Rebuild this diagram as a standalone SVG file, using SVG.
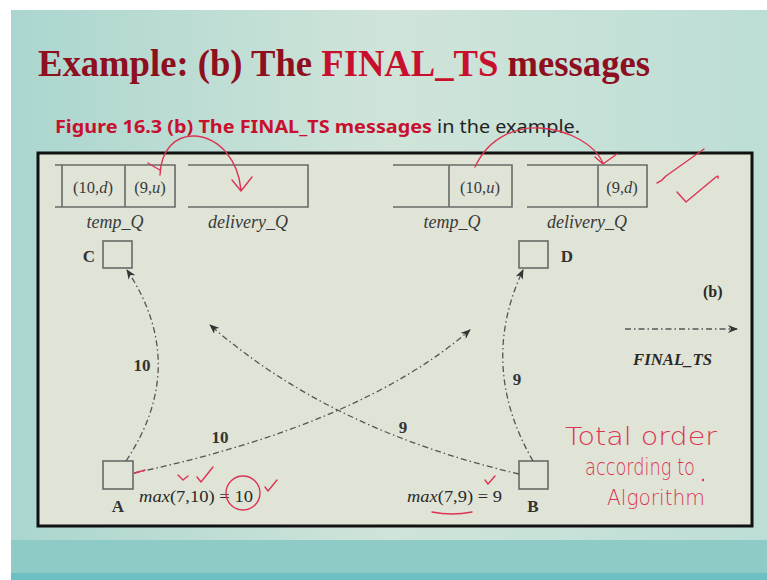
<svg xmlns="http://www.w3.org/2000/svg" width="767" height="580" viewBox="0 0 767 580">
<defs>
<linearGradient id="bg" x1="0" y1="0" x2="1" y2="0">
<stop offset="0" stop-color="#aad6cf"/>
<stop offset="0.5" stop-color="#d0e4d9"/>
<stop offset="1" stop-color="#bcded6"/>
</linearGradient>
<marker id="ah" viewBox="0 0 10 8" refX="9" refY="4" markerWidth="10" markerHeight="8" markerUnits="userSpaceOnUse" orient="auto">
<path d="M0,0 L10,4 L0,8 L3,4 z" fill="#333"/>
</marker>
<style>
.q{fill:none;stroke:#6a6a68;stroke-width:1.6}
.n{fill:none;stroke:#6a6a68;stroke-width:1.6}
.c{fill:none;stroke:#555;stroke-width:1.3;stroke-dasharray:6 3 1.5 3}
.t{font-family:"Liberation Serif","Times New Roman",serif;fill:#2a2a2a}
.cell{font-size:16.5px;fill:#3a3a3a}
.lab{font-size:18px;font-style:italic;fill:#3a3a3a}
.big{font-size:17px;font-weight:bold;fill:#333}
.red{fill:none;stroke:#dc3452;stroke-width:1.4;stroke-linecap:round;stroke-linejoin:round}
.hw{font-family:"DejaVu Sans",sans-serif;font-weight:200;fill:#dc3452}
</style>
</defs>
<rect width="767" height="580" fill="#ffffff"/>
<rect x="11" y="10" width="756" height="570" fill="url(#bg)"/>
<rect x="11" y="540" width="756" height="40" fill="#8ecbc7"/>
<rect x="11" y="573" width="756" height="7" fill="#6cc0c4"/>

<g id="title">
<text x="38" y="76" font-family="Liberation Serif,serif" font-weight="bold" font-size="37" fill="#8e0f1e" textLength="612" lengthAdjust="spacingAndGlyphs">Example: (b) The <tspan fill="#c8102e">FINAL_TS</tspan> messages</text>
</g>
<g id="subtitle">
<text x="55" y="133" font-family="Noto Sans,sans-serif" font-size="18" fill="#222" textLength="525" lengthAdjust="spacingAndGlyphs"><tspan font-weight="bold" fill="#c8102e">Figure 16.3 (b) The FINAL_TS messages</tspan> in the example.</text>
</g>

<rect x="38" y="153" width="714" height="373" fill="#dfe4d7" stroke="#111" stroke-width="3"/>

<g id="C-temp_Q">
<path class="q" d="M55,165 H175 V207 H55 M62,165 V207 M125,165 V207"/>
<text class="t cell" x="93" y="193" text-anchor="middle">(10,<tspan font-style="italic">d</tspan>)</text>
<text class="t cell" x="150" y="193" text-anchor="middle">(9,<tspan font-style="italic">u</tspan>)</text>
<text class="t lab" x="115" y="228" text-anchor="middle">temp_Q</text>
</g>
<g id="C-delivery_Q">
<path class="q" d="M188,165 H308 V207 H188"/>
<text class="t lab" x="248" y="228" text-anchor="middle">delivery_Q</text>
</g>
<g id="D-temp_Q">
<path class="q" d="M393,165 H512 V207 H393 M449,165 V207"/>
<text class="t cell" x="480" y="193" text-anchor="middle">(10,<tspan font-style="italic">u</tspan>)</text>
<text class="t lab" x="452" y="228" text-anchor="middle">temp_Q</text>
</g>
<g id="D-delivery_Q">
<path class="q" d="M527,165 H647 V207 H527 M598,165 V207"/>
<text class="t cell" x="622" y="193" text-anchor="middle">(9,<tspan font-style="italic">d</tspan>)</text>
<text class="t lab" x="587" y="228" text-anchor="middle">delivery_Q</text>
</g>

<g id="C">
<rect class="n" x="103" y="241" width="29" height="27"/>
<text class="t big" x="89" y="262" text-anchor="middle">C</text>
</g>
<g id="D">
<rect class="n" x="519" y="241" width="29" height="27"/>
<text class="t big" x="567" y="262" text-anchor="middle">D</text>
</g>
<g id="A">
<rect class="n" x="103" y="461" width="30" height="28"/>
<text class="t big" x="118" y="512" text-anchor="middle">A</text>
<text class="t" x="139" y="502" font-size="17" textLength="114" lengthAdjust="spacingAndGlyphs"><tspan font-style="italic">max</tspan>(7,10) = 10</text>
</g>
<g id="B">
<rect class="n" x="519" y="461" width="29" height="28"/>
<text class="t big" x="533" y="512" text-anchor="middle">B</text>
<text class="t" x="407" y="502" font-size="17" textLength="95" lengthAdjust="spacingAndGlyphs"><tspan font-style="italic">max</tspan>(7,9) = 9</text>
</g>

<g id="connectors">
<path class="c" d="M126,461 Q190,365 127,270" marker-end="url(#ah)"/>
<path class="c" d="M533,461 Q478,366 523,270" marker-end="url(#ah)"/>
<path class="c" d="M134,473 Q360,425 470,330" marker-end="url(#ah)"/>
<path class="c" d="M519,474 Q330,430 210,325" marker-end="url(#ah)"/>
<path class="c" d="M625,329 L737,329" marker-end="url(#ah)"/>
<text class="t big" x="142" y="371" text-anchor="middle" font-size="16">10</text>
<text class="t big" x="220" y="443" text-anchor="middle" font-size="16">10</text>
<text class="t big" x="517" y="385" text-anchor="middle" font-size="16">9</text>
<text class="t big" x="403" y="433" text-anchor="middle" font-size="16">9</text>
</g>

<g id="legend">
<text class="t" x="703" y="297" font-size="16" font-weight="bold" fill="#333">(b)</text>
<text class="t" x="633" y="365" font-size="16" font-weight="bold" font-style="italic" fill="#333" textLength="79" lengthAdjust="spacingAndGlyphs">FINAL_TS</text>
</g>

<g id="annotations">
<path class="red" d="M148,163 Q156,168 160,170 M160,175 C161,150 175,135 195,136 C220,138 238,160 241,190 M232,180 L241,191 L252,177"/>
<path class="red" d="M475,167 C490,135 518,127 540,128 C570,130 595,145 603,163 M595,157 L603,164 L617,154"/>
<path class="red" d="M657,183 Q662,181 666,176 L704,149"/>
<path class="red" d="M677,192 L686,202 L716,177 Q719,175 718,178"/>
<path class="red" d="M178,475 L183,480 L188,476 M197,477 L201,482 L213,467"/>
<ellipse class="red" cx="243" cy="493" rx="17" ry="17"/>
<path class="red" d="M265,487 L268,491 L277,480"/>
<path class="red" d="M135,473 L145,470"/>
<path class="red" d="M432,512 Q452,516 472,512"/>
<path class="red" d="M485,480 L488,484 L495,476"/>
<text class="hw" x="565" y="445" font-size="25" textLength="152" lengthAdjust="spacingAndGlyphs">Total order</text>
<text class="hw" x="585" y="475" font-size="23" textLength="110" lengthAdjust="spacingAndGlyphs">according to</text>
<circle cx="703" cy="480" r="1.2" fill="#dc3452"/>
<text class="hw" x="607" y="505" font-size="22" textLength="98" lengthAdjust="spacingAndGlyphs">Algorithm</text>
</g>
</svg>
